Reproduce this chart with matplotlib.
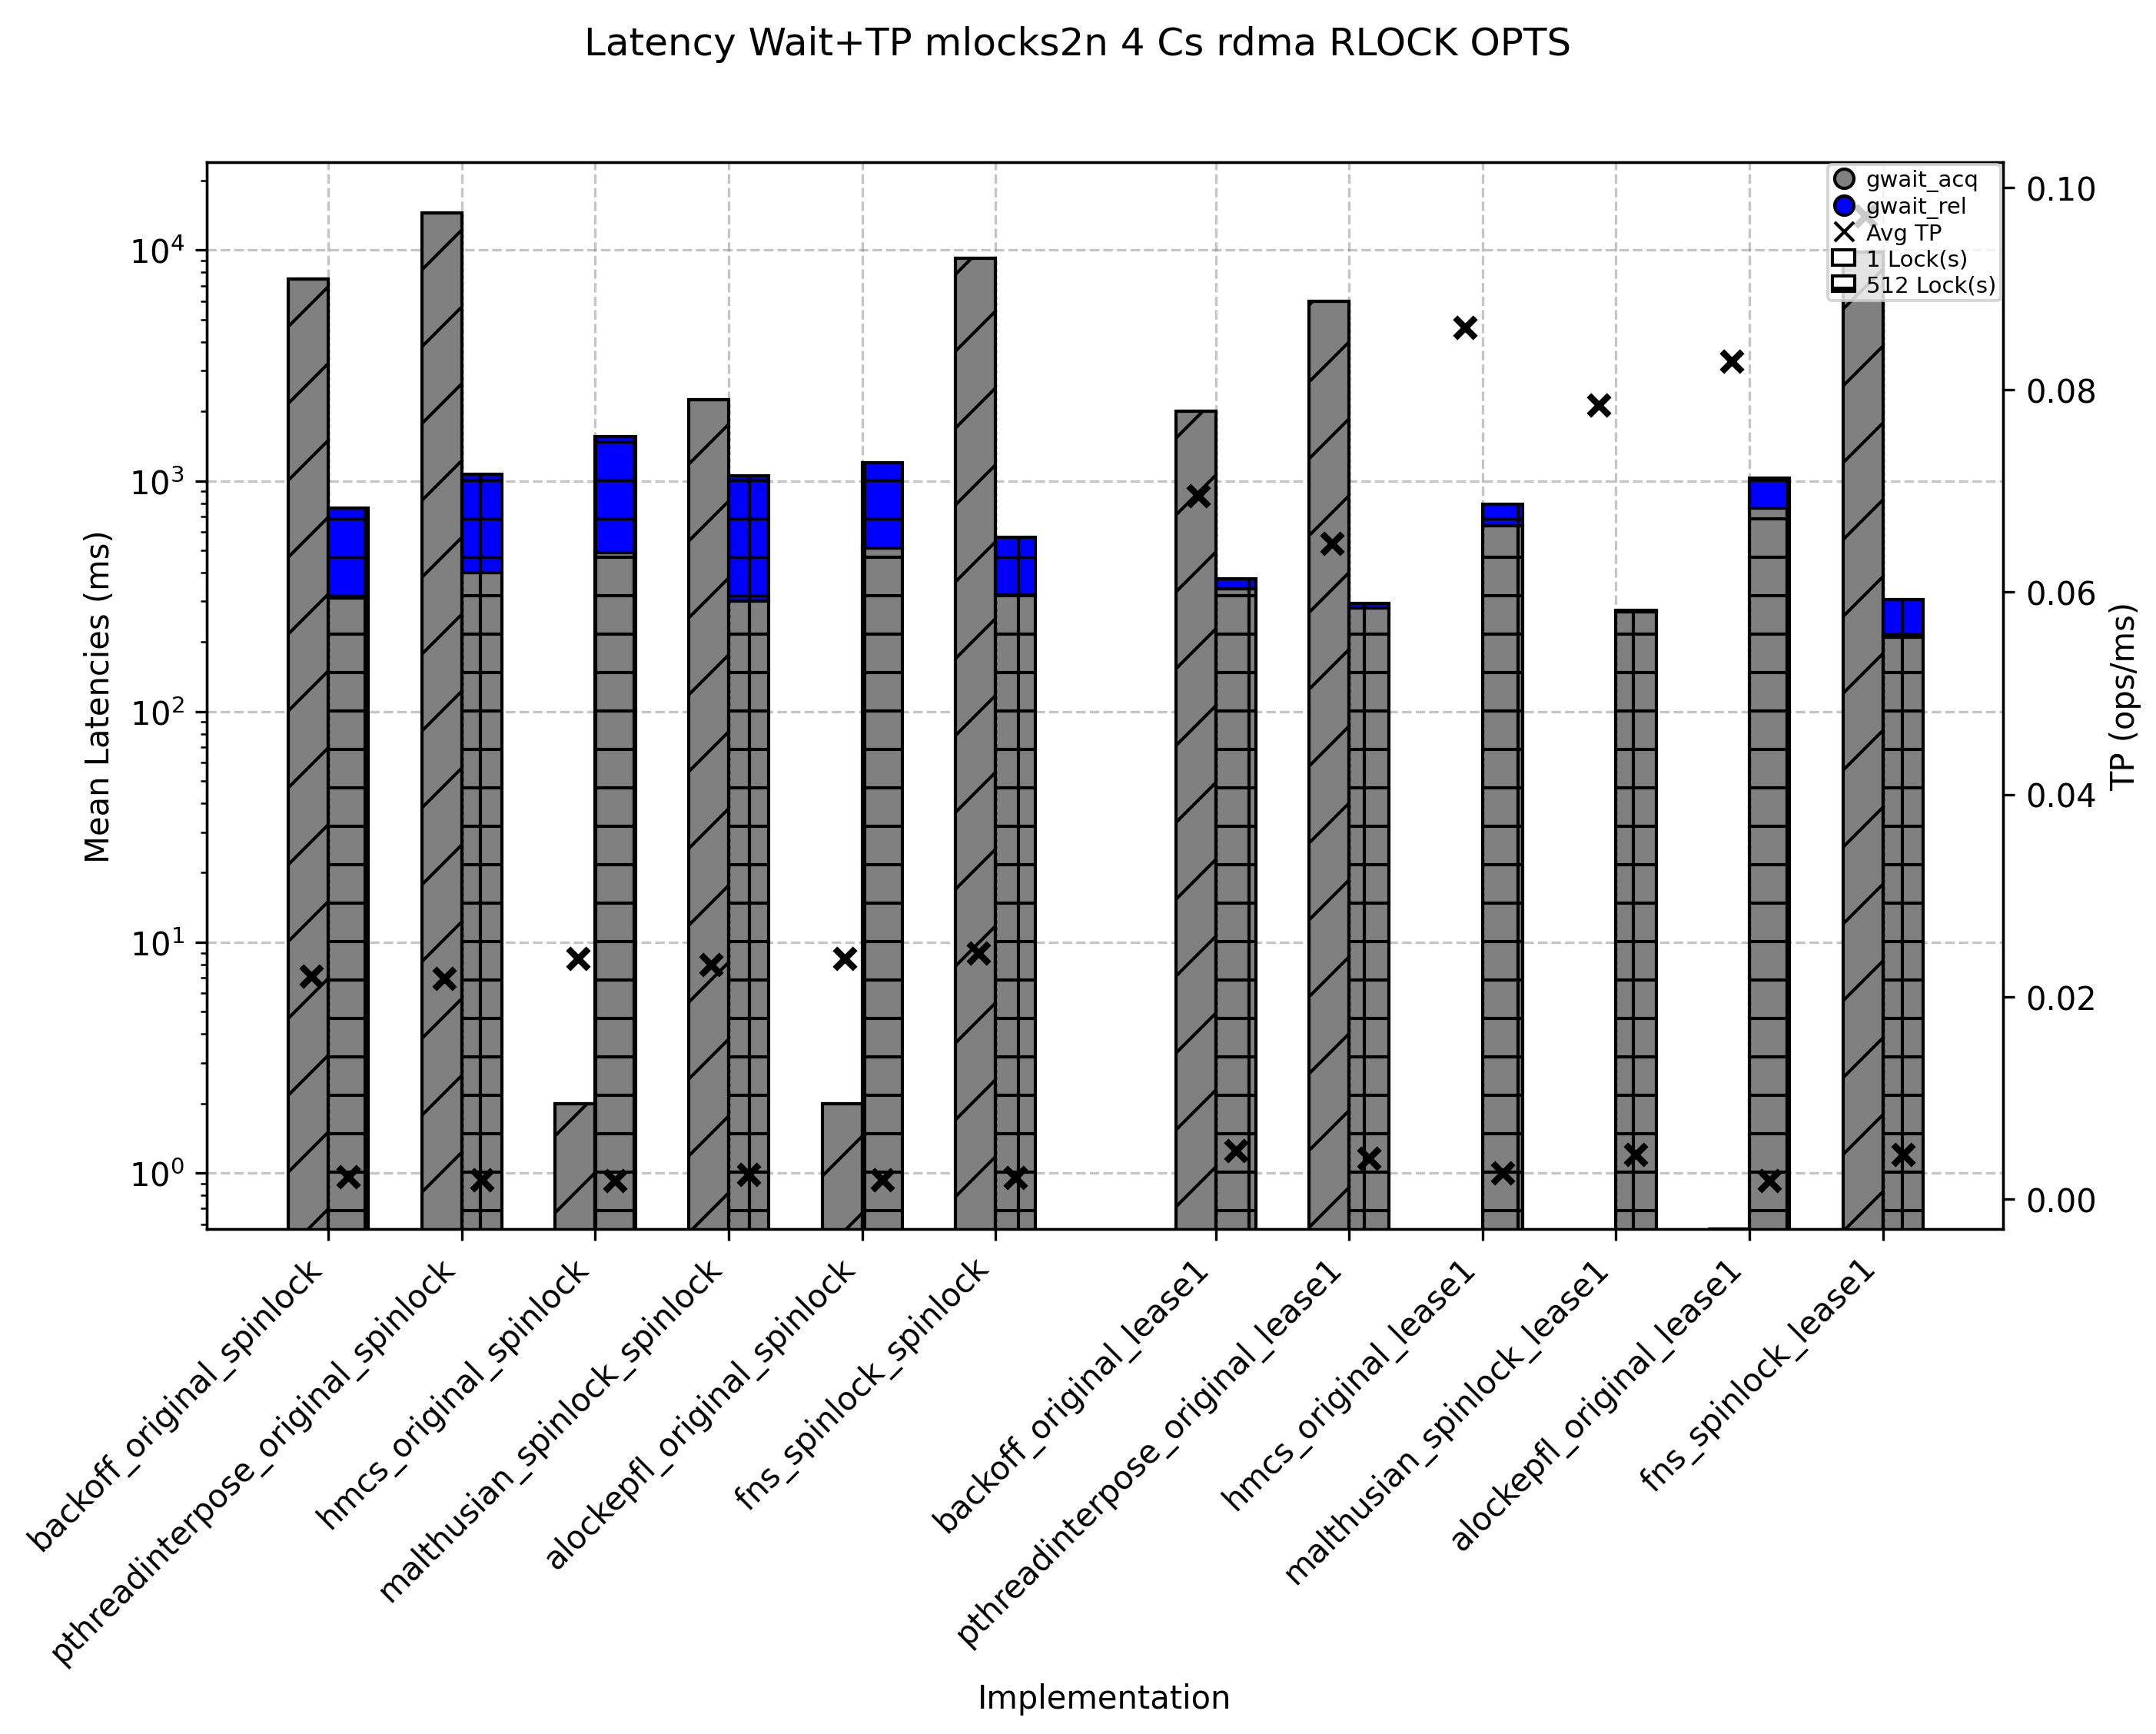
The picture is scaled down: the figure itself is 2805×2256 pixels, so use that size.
import matplotlib
matplotlib.use("Agg")
import matplotlib.pyplot as plt
import numpy as np
from matplotlib.lines import Line2D
from matplotlib.patches import Patch

impls = ["backoff_original_spinlock", "pthreadinterpose_original_spinlock", "hmcs_original_spinlock",
         "malthusian_spinlock_spinlock", "alockepfl_original_spinlock", "fns_spinlock_spinlock",
         "backoff_original_lease1", "pthreadinterpose_original_lease1", "hmcs_original_lease1",
         "malthusian_spinlock_lease1", "alockepfl_original_lease1", "fns_spinlock_lease1"]
acq_1 = [7500, 14500, 2.0, 2250, 2.0, 9200, 2000, 6000, 0, 0, 0.57, 9800]
rel_1 = [0, 0, 0, 0, 0, 0, 0, 0, 0, 0, 0, 0]
acq_512 = [310, 400, 490, 300, 510, 320, 340, 280, 640, 270, 760, 210]
rel_512 = [450, 670, 1060, 750, 690, 250, 35, 15, 150, 5, 270, 95]
tp_1 = [0.0220, 0.0218, 0.0238, 0.0232, 0.0238, 0.0243, 0.0695, 0.0648, 0.0862, 0.0785, 0.0828, 0.0972]
tp_512 = [0.0022, 0.0019, 0.0018, 0.0024, 0.0019, 0.0021, 0.0048, 0.0040, 0.0026, 0.0044, 0.0018, 0.0044]

x = np.array([0, 1, 2, 3, 4, 5, 6.65, 7.65, 8.65, 9.65, 10.65, 11.65])
w = 0.3

fig = plt.figure(figsize=(9.35, 7.523), dpi=300)
ax = fig.add_axes([0.096, 0.291, 0.833, 0.615])
ax2 = ax.twinx()

for off, acq, rel, hatch in [(-w/2, acq_1, rel_1, '/'), (w/2, acq_512, rel_512, '+')]:
    ax.bar(x + off, acq, w, color='gray', edgecolor='black', hatch=hatch, linewidth=1)
    ax.bar(x + off, rel, w, bottom=acq, color='blue', edgecolor='black', hatch=hatch, linewidth=1)
    ax.vlines(x, 0.5, np.maximum(np.array(acq)+np.array(rel), 0.58), colors='black', linestyles=':', linewidth=0.8)

ax.set_yscale('log')
ax.set_ylim(0.57, 24000)
ax.set_xlim(-0.91, 12.55)
ax.set_xticks(x)
ax.set_xticklabels(impls, rotation=45, ha='right')
ax.set_ylabel("Mean Latencies (ms)")
ax.set_xlabel("Implementation")
ax.grid(True, linestyle='--', color='gray', alpha=0.45)
ax.set_axisbelow(True)

ax2.scatter(x - w/2 + 0.02, tp_1, marker='x', color='black', s=40, linewidths=2, zorder=5)
ax2.scatter(x + w/2, tp_512, marker='x', color='black', s=40, linewidths=2, zorder=5)
ax2.set_ylim(-0.003, 0.1025)
ax2.set_ylabel("TP (ops/ms)")

handles = [Line2D([], [], marker='o', color='none', markerfacecolor='gray', markeredgecolor='black', label='gwait_acq'),
           Line2D([], [], marker='o', color='none', markerfacecolor='blue', markeredgecolor='black', label='gwait_rel'),
           Line2D([], [], marker='x', color='black', linestyle='none', label='Avg TP'),
           Patch(facecolor='white', edgecolor='black', hatch='/', label='1 Lock(s)'),
           Patch(facecolor='white', edgecolor='black', hatch='+', label='512 Lock(s)')]
ax2.legend(handles=handles, loc='upper right', fontsize=7, handlelength=1, handletextpad=0.5,
           borderpad=0.2, labelspacing=0.2, borderaxespad=0.1)

fig.suptitle("Latency Wait+TP mlocks2n 4 Cs rdma RLOCK OPTS", y=0.985)
fig.savefig("out.png", dpi=300)
